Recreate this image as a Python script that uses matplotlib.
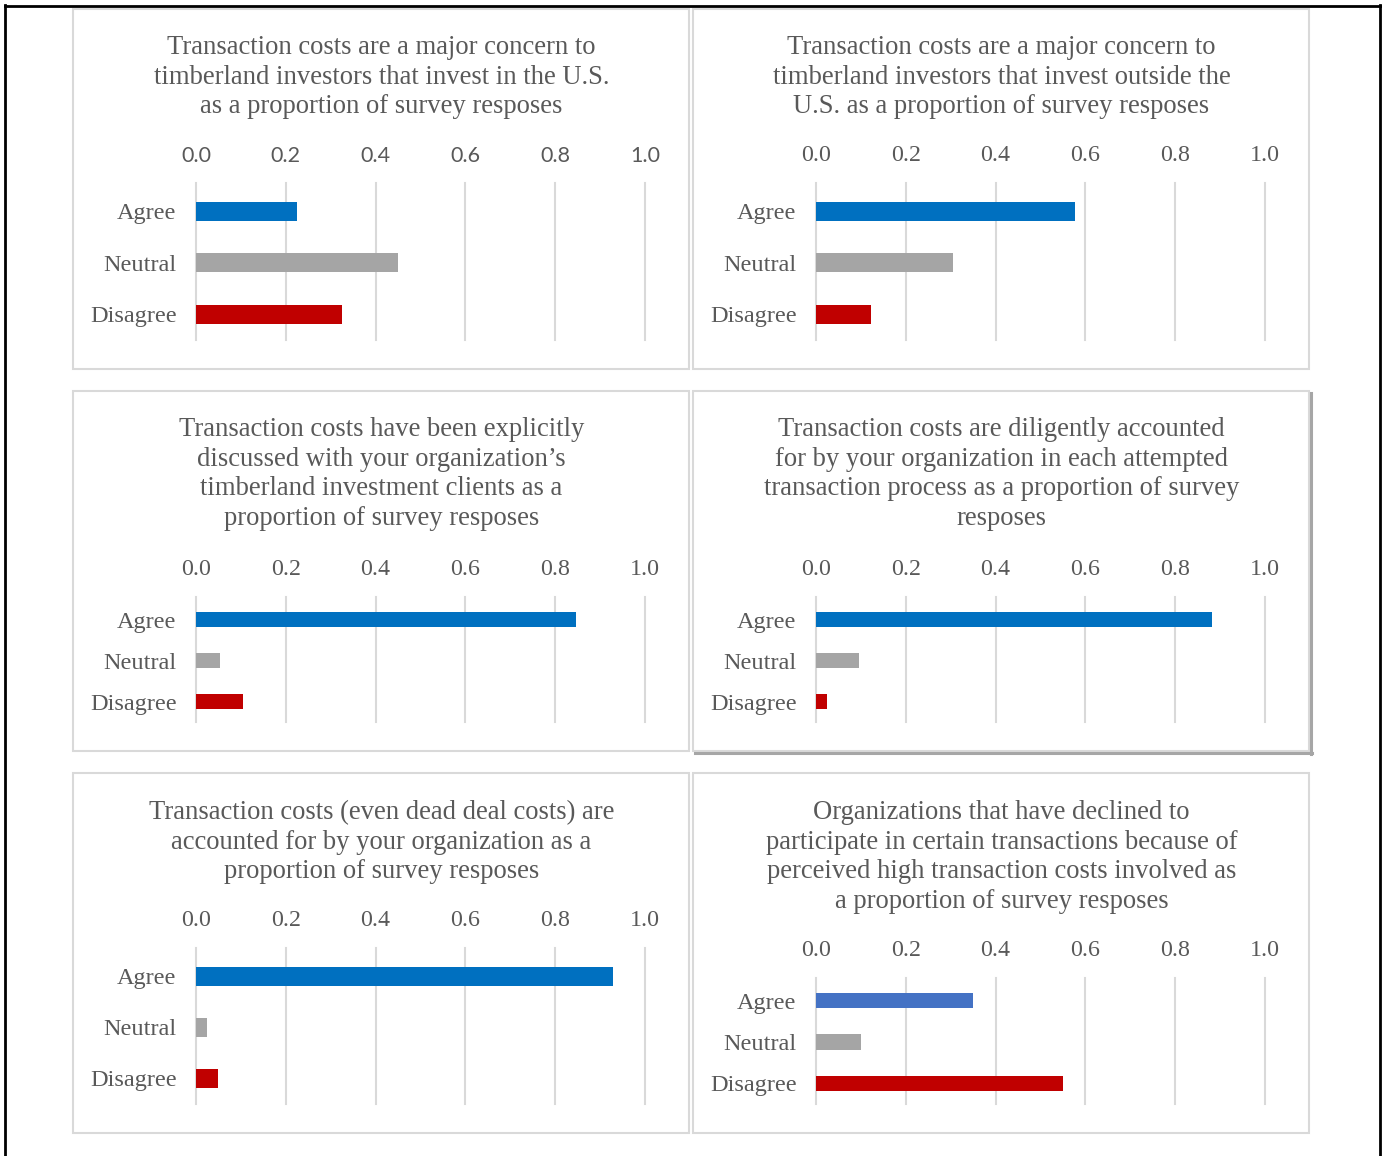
import matplotlib
matplotlib.use('Agg')
import matplotlib.pyplot as plt
from matplotlib.patches import Rectangle
from matplotlib.lines import Line2D

W, H = 1382, 1156

categories = ['Agree', 'Neutral', 'Disagree']
ticks = [0.0, 0.2, 0.4, 0.6, 0.8, 1.0]

us_concern = [0.225, 0.45, 0.325]
outside_concern = [0.577, 0.305, 0.122]
discussed = [0.846, 0.053, 0.105]
diligent = [0.882, 0.096, 0.024]
dead_deal = [0.929, 0.024, 0.049]
declined = [0.35, 0.10, 0.55]

titles = [
    'Transaction costs are a major concern to\ntimberland investors that invest in the U.S.\nas a proportion of survey resposes',
    'Transaction costs are a major concern to\ntimberland investors that invest outside the\nU.S. as a proportion of survey resposes',
    'Transaction costs have been explicitly\ndiscussed with your organization\u2019s\ntimberland investment clients as a\nproportion of survey resposes',
    'Transaction costs are diligently accounted\nfor by your organization in each attempted\ntransaction process as a proportion of survey\nresposes',
    'Transaction costs (even dead deal costs) are\naccounted for by your organization as a\nproportion of survey resposes',
    'Organizations that have declined to\nparticipate in certain transactions because of\nperceived high transaction costs involved as\na proportion of survey resposes',
]
series = [us_concern, outside_concern, discussed, diligent, dead_deal, declined]

# layout in pixels: panel left, panel top, axes top, title middle
panels = [
    (73, 9, 183, 77),
    (693, 9, 183, 77),
    (73, 391, 597, 474),
    (693, 391, 597, 474),
    (73, 773, 948, 842),
    (693, 773, 978, 857),
]
PW, PH = 616, 360

TEXT = '#595959'
GRID = '#D9D9D9'
SERIF = 'Liberation Serif'


def fx(x):
    return x / W


def fy(y):
    return 1 - y / H


fig = plt.figure(figsize=(W / 100, H / 100), dpi=100)

# outer frame (top, left, right)
for xs, ys in [([5, 1381], [5.5, 5.5]), ([5.5, 5.5], [5, 1156]), ([1380, 1380], [5, 1156])]:
    fig.add_artist(Line2D([fx(x) for x in xs], [fy(y) for y in ys], color='black', lw=2,
                          transform=fig.transFigure))

for i, (px, py, atop, tmid) in enumerate(panels):
    if i == 3:
        # panel with drop shadow
        fig.add_artist(Line2D([fx(px + PW + 1.5)] * 2, [fy(py + 2), fy(py + PH + 3)], color='#A6A6A6',
                              lw=2.2, transform=fig.transFigure))
        fig.add_artist(Line2D([fx(px + 2), fx(px + PW + 3)], [fy(py + PH + 1.5)] * 2, color='#A6A6A6',
                              lw=2.2, transform=fig.transFigure))
    fig.add_artist(Rectangle((fx(px), fy(py + PH)), PW / W, PH / H, fill=False, ec='#D9D9D9', lw=1.5,
                             transform=fig.transFigure))

    fig.text(fx(px + PW / 2 + 0.5), fy(tmid), titles[i], ha='center', va='center', color=TEXT,
             family=SERIF, fontsize=19.2, linespacing=1.25)

    ax_left = px + 123
    ax_bottom = py + 331
    ax = fig.add_axes([fx(ax_left), fy(ax_bottom), 449 / W, (ax_bottom - atop) / H])

    colors = ['#4472C4' if i == 5 else '#0070C0', '#A5A5A5', '#C00000']
    ax.barh(range(3), series[i], height=0.37, color=colors, zorder=3)
    for t in ticks:
        ax.axvline(t, color=GRID, lw=1.5, zorder=1, clip_on=False)

    ax.set_xlim(0, 1)
    ax.set_ylim(2.5, -0.55)
    ax.set_xticks(ticks)
    ax.set_xticklabels(['%.1f' % t for t in ticks])
    ax.set_yticks(range(3))
    ax.set_yticklabels(categories, family=SERIF, fontsize=17.5, color=TEXT)
    ax.xaxis.tick_top()
    ax.tick_params(axis='x', length=0, pad=12, labelcolor=TEXT)
    ax.tick_params(axis='y', length=0, pad=14)
    for lbl in ax.get_xticklabels():
        if i == 0:
            lbl.set_family('Lato')
            lbl.set_fontsize(15.5)
        else:
            lbl.set_family(SERIF)
            lbl.set_fontsize(17.3)
    for s in ax.spines.values():
        s.set_visible(False)
    ax.set_facecolor('none')

fig.savefig('out.png', dpi=100, facecolor='white')
